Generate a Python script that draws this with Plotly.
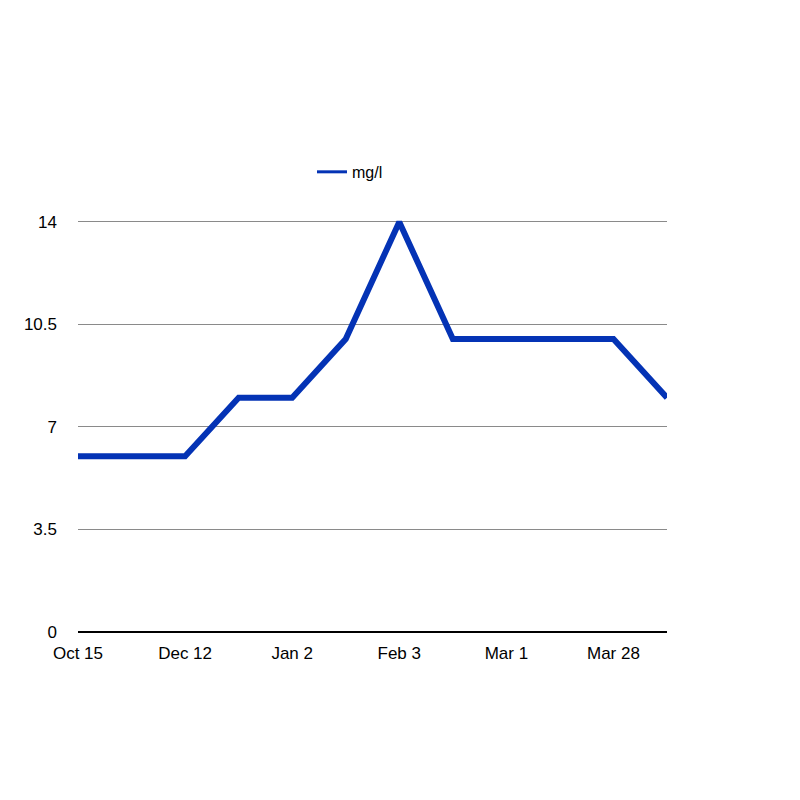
import plotly.graph_objects as go

dates = ["Oct 15", "Nov 13", "Dec 12", "Dec 22", "Jan 2", "Jan 18",
         "Feb 3", "Feb 16", "Mar 1", "Mar 14", "Mar 28", "Apr 10"]
mg_per_l = [6, 6, 6, 8, 8, 10, 14, 10, 10, 10, 10, 8]
y_ticks = [0, 3.5, 7, 10.5, 14]
y_tick_text = ["0", "3.5", "7", "10.5", "14"]
x_tick_labels = dates[::2]

fig = go.Figure()
fig.add_trace(go.Scatter(
    x=dates, y=mg_per_l, mode="lines", name="mg/l", showlegend=False,
    legendgroup="mg", line=dict(color="#0433B5", width=6),
))
# legend entry (thinner sample like the reference)
fig.add_trace(go.Scatter(
    x=[None], y=[None], mode="lines", name="mg/l", showlegend=True,
    legendgroup="mg", line=dict(color="#0433B5", width=3),
))

fig.update_layout(
    width=800, height=800,
    paper_bgcolor="white", plot_bgcolor="white",
    font=dict(family="Liberation Sans, Arial, sans-serif", size=17, color="black"),
    margin=dict(l=70, r=141, t=211, b=176),
    showlegend=True,
    legend=dict(orientation="h", x=(357 - 45 - 78) / 589, y=0.114 + 1,
                xanchor="left", yanchor="middle",
                itemwidth=30, font=dict(size=16), bgcolor="rgba(0,0,0,0)"),
    xaxis=dict(type="category", range=[0, 11], tickvals=x_tick_labels,
               ticktext=x_tick_labels, showgrid=False, zeroline=False,
               showline=False, ticks="", ticklabelstandoff=9),
    yaxis=dict(range=[0, 14.1], tickvals=y_ticks, ticktext=y_tick_text,
               showgrid=True, gridcolor="#8a8a8a", gridwidth=1,
               zeroline=True, zerolinecolor="black", zerolinewidth=2,
               showline=False, ticks="", ticklabelstandoff=20),
)

fig.write_html("out.html")
